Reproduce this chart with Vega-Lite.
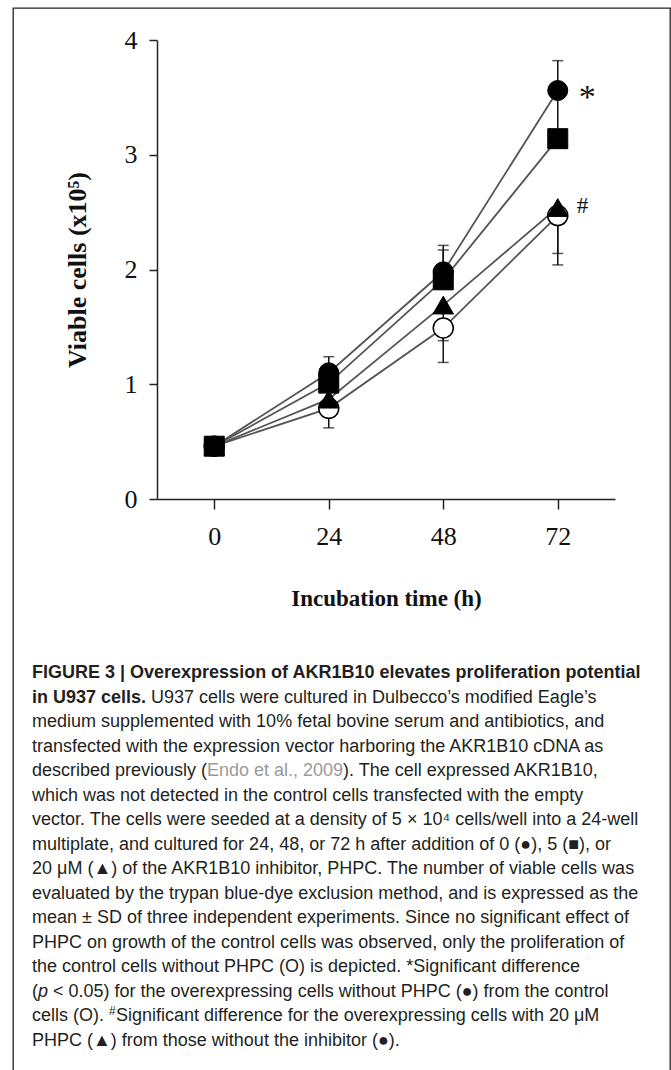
{
  "$schema": "https://vega.github.io/schema/vega-lite/v6.json",
  "width": 657,
  "height": 1063,
  "autosize": {"type": "none"},
  "padding": {"left": 13, "top": 8, "right": 1, "bottom": 0},
  "background": "white",
  "config": {
    "view": {"stroke": "#222", "strokeWidth": 1.3},
    "axis": {
      "grid": false,
      "domainColor": "#222",
      "domainWidth": 1.5,
      "tickColor": "#222",
      "tickWidth": 1.5,
      "labelFont": "Liberation Serif",
      "labelFontSize": 26,
      "labelColor": "#111",
      "titleFont": "Liberation Serif",
      "titleFontWeight": "bold",
      "titleColor": "#111"
    }
  },
  "datasets": {
    "pts": [
      {"series": "open", "time": 0, "value": 0.46},
      {"series": "open", "time": 24, "value": 0.79},
      {"series": "open", "time": 48, "value": 1.49},
      {"series": "open", "time": 72, "value": 2.47},
      {"series": "triangle", "time": 0, "value": 0.46},
      {"series": "triangle", "time": 24, "value": 0.87},
      {"series": "triangle", "time": 48, "value": 1.69},
      {"series": "triangle", "time": 72, "value": 2.54},
      {"series": "filled", "time": 0, "value": 0.46},
      {"series": "filled", "time": 24, "value": 1.1},
      {"series": "filled", "time": 48, "value": 1.98},
      {"series": "filled", "time": 72, "value": 3.56},
      {"series": "square", "time": 0, "value": 0.46},
      {"series": "square", "time": 24, "value": 1.01},
      {"series": "square", "time": 48, "value": 1.91},
      {"series": "square", "time": 72, "value": 3.14}
    ],
    "errs": [
      {"series": "filled", "time": 24, "lo": 1.1, "hi": 1.24},
      {"series": "filled", "time": 48, "lo": 1.98, "hi": 2.21},
      {"series": "square", "time": 48, "lo": 1.91, "hi": 2.17},
      {"series": "filled", "time": 72, "lo": 3.14, "hi": 3.82},
      {"series": "triangle", "time": 48, "lo": 1.38, "hi": 1.69},
      {"series": "triangle", "time": 72, "lo": 2.14, "hi": 2.54},
      {"series": "open", "time": 24, "lo": 0.62, "hi": 0.79},
      {"series": "open", "time": 48, "lo": 1.19, "hi": 1.49},
      {"series": "open", "time": 72, "lo": 2.04, "hi": 2.47}
    ],
    "annot": [
      {"time": 72, "value": 3.56, "label": "*"},
      {"time": 72, "value": 2.54, "label": "#"}
    ],
    "caption": [
      {"line": 1, "seg": "b", "text": "FIGURE 3 | Overexpression of AKR1B10 elevates proliferation potential"},
      {"line": 2, "seg": "b", "text": "in U937 cells."},
      {"line": 2, "seg": "r2", "text": "U937 cells were cultured in Dulbecco’s modified Eagle’s"},
      {"line": 3, "seg": "r", "text": "medium supplemented with 10% fetal bovine serum and antibiotics, and"},
      {"line": 4, "seg": "r", "text": "transfected with the expression vector harboring the AKR1B10 cDNA as"},
      {"line": 5, "seg": "r", "text": "described previously ("},
      {"line": 5, "seg": "cite", "text": "Endo et al., 2009"},
      {"line": 5, "seg": "r5", "text": "). The cell expressed AKR1B10,"},
      {"line": 6, "seg": "r", "text": "which was not detected in the control cells transfected with the empty"},
      {"line": 7, "seg": "r", "text": "vector. The cells were seeded at a density of 5 × 10⁴ cells/well into a 24-well"},
      {"line": 8, "seg": "r", "text": "multiplate, and cultured for 24, 48, or 72 h after addition of 0 (●), 5 (■), or"},
      {"line": 9, "seg": "r", "text": "20 μM (▲) of the AKR1B10 inhibitor, PHPC. The number of viable cells was"},
      {"line": 10, "seg": "r", "text": "evaluated by the trypan blue-dye exclusion method, and is expressed as the"},
      {"line": 11, "seg": "r", "text": "mean ± SD of three independent experiments. Since no significant effect of"},
      {"line": 12, "seg": "r", "text": "PHPC on growth of the control cells was observed, only the proliferation of"},
      {"line": 13, "seg": "r", "text": "the control cells without PHPC (O) is depicted. *Significant difference"},
      {"line": 14, "seg": "r", "text": "("},
      {"line": 14, "seg": "it", "text": "p"},
      {"line": 14, "seg": "r14", "text": "< 0.05) for the overexpressing cells without PHPC (●) from the control"},
      {"line": 15, "seg": "r", "text": "cells (O)."},
      {"line": 15, "seg": "sup", "text": "#"},
      {"line": 15, "seg": "r15", "text": "Significant difference for the overexpressing cells with 20 μM"},
      {"line": 16, "seg": "r", "text": "PHPC (▲) from those without the inhibitor (●)."}
    ]
  },
  "layer": [
    {
      "layer": [
        {
          "data": {"name": "pts"},
          "mark": {"type": "line", "stroke": "#555", "strokeWidth": 1.8},
          "encoding": {
            "x": {
              "field": "time", "type": "quantitative",
              "scale": {"domain": [-12, 84], "range": [144, 602], "nice": false, "zero": false},
              "axis": {"values": [0, 24, 48, 72], "title": "Incubation time (h)", "titleFontSize": 23, "tickSize": 10, "labelPadding": 14, "titlePadding": 38, "offset": -572}
            },
            "y": {
              "field": "value", "type": "quantitative",
              "scale": {"domain": [0, 4], "range": [491, 32], "nice": false, "zero": false},
              "axis": {"values": [0, 1, 2, 3, 4], "format": "d", "title": "Viable cells (x10⁵)", "titleFontSize": 26, "tickSize": 8, "labelPadding": 12, "titlePadding": 34, "offset": -144}
            },
            "detail": {"field": "series"}
          }
        },
        {
          "data": {"name": "errs"},
          "mark": {"type": "rule", "stroke": "#111", "strokeWidth": 1.5},
          "encoding": {
            "x": {"field": "time", "type": "quantitative"},
            "y": {"field": "lo", "type": "quantitative"},
            "y2": {"field": "hi"}
          }
        },
        {
          "data": {"name": "errs"},
          "transform": [{"filter": "datum.series == 'filled' || datum.series == 'square'"}],
          "mark": {"type": "tick", "orient": "horizontal", "size": 11, "thickness": 1.5, "color": "#111"},
          "encoding": {
            "x": {"field": "time", "type": "quantitative"},
            "y": {"field": "hi", "type": "quantitative"}
          }
        },
        {
          "data": {"name": "errs"},
          "transform": [{"filter": "datum.series == 'triangle' || datum.series == 'open'"}],
          "mark": {"type": "tick", "orient": "horizontal", "size": 11, "thickness": 1.5, "color": "#111"},
          "encoding": {
            "x": {"field": "time", "type": "quantitative"},
            "y": {"field": "lo", "type": "quantitative"}
          }
        },
        {
          "data": {"name": "pts"},
          "transform": [{"filter": "datum.series == 'open'"}],
          "mark": {"type": "point", "shape": "circle", "size": 400, "fill": "#ffffff", "stroke": "#000", "strokeWidth": 1.5, "opacity": 1, "fillOpacity": 1},
          "encoding": {
            "x": {"field": "time", "type": "quantitative"},
            "y": {"field": "value", "type": "quantitative"}
          }
        },
        {
          "data": {"name": "pts"},
          "transform": [{"filter": "datum.series == 'triangle'"}],
          "mark": {"type": "point", "shape": "triangle-up", "size": 420, "fill": "#000000", "stroke": "#000", "strokeWidth": 1, "opacity": 1, "fillOpacity": 1},
          "encoding": {
            "x": {"field": "time", "type": "quantitative"},
            "y": {"field": "value", "type": "quantitative"}
          }
        },
        {
          "data": {"name": "pts"},
          "transform": [{"filter": "datum.series == 'filled'"}],
          "mark": {"type": "point", "shape": "circle", "size": 400, "fill": "#000000", "stroke": "#000", "strokeWidth": 1, "opacity": 1, "fillOpacity": 1},
          "encoding": {
            "x": {"field": "time", "type": "quantitative"},
            "y": {"field": "value", "type": "quantitative"}
          }
        },
        {
          "data": {"name": "pts"},
          "transform": [{"filter": "datum.series == 'square'"}],
          "mark": {"type": "point", "shape": "square", "size": 400, "fill": "#000000", "stroke": "#000", "strokeWidth": 1, "opacity": 1, "fillOpacity": 1},
          "encoding": {
            "x": {"field": "time", "type": "quantitative"},
            "y": {"field": "value", "type": "quantitative"}
          }
        },
        {
          "data": {"name": "annot"},
          "mark": {"type": "text", "align": "left", "baseline": "alphabetic", "font": "Liberation Serif", "color": "#111",
            "fontSize": {"expr": "datum.label == '*' ? 34 : 23"},
            "dx": {"expr": "datum.label == '*' ? 21 : 19"},
            "dy": {"expr": "datum.label == '*' ? 18 : 5"}},
          "encoding": {
            "x": {"field": "time", "type": "quantitative"},
            "y": {"field": "value", "type": "quantitative"},
            "text": {"field": "label"}
          }
        }
      ]
    },
    {
      "data": {"name": "caption"},
      "mark": {
        "type": "text", "align": "left", "baseline": "alphabetic", "x": 19, "font": "Liberation Sans",
        "fontSize": {"expr": "datum.seg == 'sup' ? 12 : 18"},
        "fontWeight": {"expr": "datum.seg == 'b' ? 'bold' : 'normal'"},
        "fontStyle": {"expr": "datum.seg == 'it' ? 'italic' : 'normal'"},
        "color": {"expr": "datum.seg == 'cite' ? '#9a9a9a' : '#231f20'"},
        "dx": {"expr": "datum.seg == 'r2' ? 119 : datum.seg == 'cite' ? 175 : datum.seg == 'r5' ? 311 : datum.seg == 'it' ? 6 : datum.seg == 'r14' ? 21 : datum.seg == 'sup' ? 77 : datum.seg == 'r15' ? 84 : 0"},
        "dy": {"expr": "datum.seg == 'sup' ? -6 : 0"}
      },
      "encoding": {
        "y": {"field": "line", "type": "quantitative", "scale": {"domain": [1, 16], "range": [670, 1038], "nice": false, "zero": false}, "axis": null},
        "text": {"field": "text"}
      }
    }
  ],
  "resolve": {"scale": {"y": "independent"}}
}
